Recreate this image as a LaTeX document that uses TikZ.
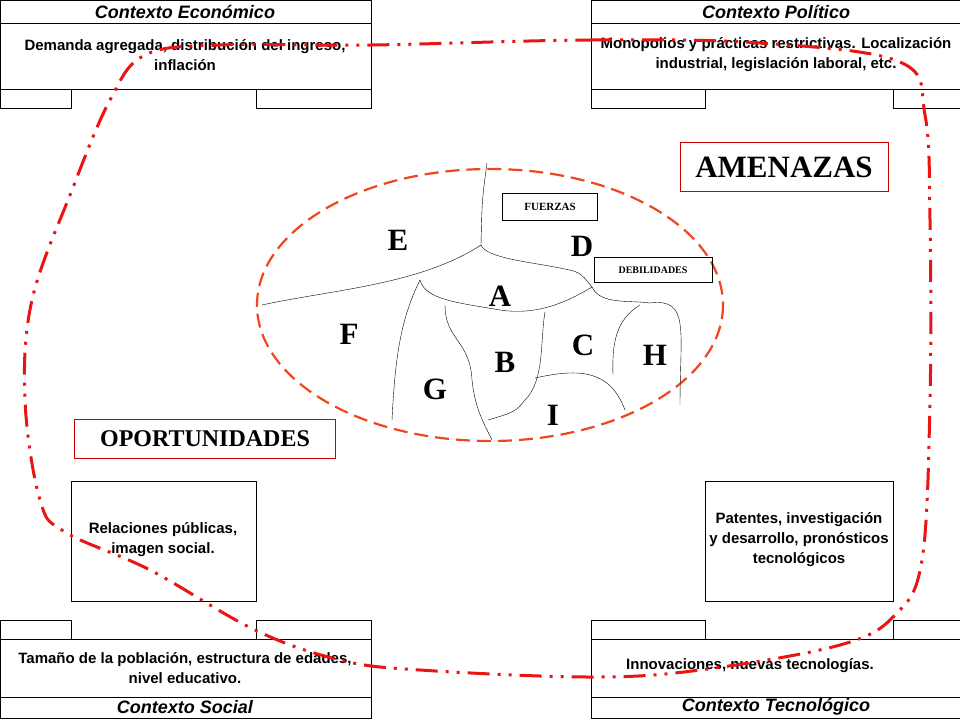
\documentclass[tikz,border=0pt]{standalone}
\usepackage{fontspec}
\setmainfont{Liberation Serif}
\setsansfont{Liberation Sans}
\tikzset{
	frame/.style={draw=black, line width=0.8pt},
	bodytext/.style={font=\sffamily\bfseries\fontsize{15}{20}\selectfont, align=center},
	titletext/.style={font=\sffamily\bfseries\itshape\fontsize{18}{20}\selectfont},
	region/.style={font=\bfseries\fontsize{31}{31}\selectfont},
	tag/.style={draw=black, font=\bfseries\fontsize{14}{14}\selectfont, inner sep=0},
	redtag/.style={draw=red!80!black, font=\bfseries\fontsize{28}{28}\selectfont, inner sep=0},
	border/.style={thin, black},
}
\definecolor{loopred}{RGB}{235,20,20}
\definecolor{ovalred}{RGB}{240,70,30}
\begin{document}
\begin{tikzpicture}[x=1pt,y=-1pt]
\useasboundingbox (0,0) rectangle (960,720);

% top boxes
\foreach \xa/\xb/\ta/\tb in {0/371/71/256, 591/960/705/893}{
	\draw[frame] (\xa,0) rectangle (\xb,89);
	\draw[frame] (\xa,23) -- (\xb,23);
	\draw[frame] (\xa,89) rectangle (\ta,108);
	\draw[frame] (\tb,89) rectangle (\xb,108);
}
% bottom boxes
\foreach \xa/\xb/\ta/\tb in {0/371/71/256, 591/960/705/893}{
	\draw[frame] (\xa,639) rectangle (\xb,718);
	\draw[frame] (\xa,697) -- (\xb,697);
	\draw[frame] (\xa,620) rectangle (\ta,639);
	\draw[frame] (\tb,620) rectangle (\xb,639);
}
% middle boxes
\draw[frame] (71,481) rectangle (256,601);
\draw[frame] (705,481) rectangle (893,601);

\node[titletext](teco) at(185,12) {Contexto Económico};
\node[titletext](tpol) at(776,12) {Contexto Político};
\node[titletext](tsoc) at(185,707) {Contexto Social};
\node[titletext](ttec) at(776,707) {Contexto Tecnológico};
\node[bodytext](beco) at(185,55) {Demanda agregada, distribución del ingreso,\\inflación};
\node[bodytext](bpol) at(776,55) {Monopolios y prácticas restrictivas. Localización\\industrial, legislación laboral, etc.};
\node[bodytext](bsoc) at(185,668) {Tamaño de la población, estructura de edades,\\nivel educativo.};
\node[bodytext](btec) at(750,666) {Innovaciones, nuevas tecnologías.};
\node[bodytext](brel) at(163,540) {Relaciones públicas,\\imagen social.};
\node[bodytext](bpat) at(799,540) {Patentes, investigación\\y desarrollo, pronósticos\\tecnológicos};

% oval
\draw[ovalred, line width=2.2pt, dash pattern=on 14pt off 7pt] (490,305) ellipse[x radius=233, y radius=136];

% borders of regions
\draw[border] (487,163) .. controls (482,200) .. (481,245) .. controls (486,258) and (530,262) .. (560,268) .. controls (580,272) .. (592,287);
\draw[border] (262,305) .. controls (330,290) and (420,285) .. (481,245);
\draw[border] (420,280) .. controls (425,300) and (460,303) .. (500,310) .. controls (540,316) and (570,300) .. (592,287);
\draw[border] (592,287) .. controls (600,305) and (630,300) .. (650,303) .. controls (690,298) and (680,330) .. (680,405);
\draw[border] (420,280) .. controls (400,320) and (395,360) .. (392,420);
\draw[border] (445,305) .. controls (445,340) and (470,340) .. (472,380) .. controls (475,410) and (485,425) .. (492,440);
\draw[border] (545,312) .. controls (540,340) and (545,380) .. (525,400) .. controls (515,412) .. (488,420);
\draw[border] (535,378) .. controls (580,368) and (610,370) .. (625,410);
\draw[border] (640,305) .. controls (615,320) and (612,345) .. (613,375);

\node[region](lE) at(398,240) {E};
\node[region](lD) at(582,246) {D};
\node[region](lA) at(500,296) {A};
\node[region](lF) at(349,334) {F};
\node[region](lC) at(583,345) {C};
\node[region](lH) at(655,355) {H};
\node[region](lB) at(505,362) {B};
\node[region](lG) at(435,389) {G};
\node[region](lI) at(553,415) {I};

\node[tag, minimum width=95, minimum height=27](fuer) at(550,207) {\fontsize{11}{11}\selectfont FUERZAS};
\node[tag, minimum width=118, minimum height=25](debi) at(653,270) {\fontsize{10}{10}\selectfont DEBILIDADES};
\node[redtag, minimum width=208, minimum height=49](amen) at(784,167) {\fontsize{31}{31}\selectfont AMENAZAS};
\node[redtag, minimum width=261, minimum height=39](opor) at(205,439) {\fontsize{24}{24}\selectfont OPORTUNIDADES};

% dash dot dot loop
\draw[loopred, line width=3pt, dash pattern=on 22pt off 8pt on 3pt off 8pt on 3pt off 8pt]
	plot[smooth cycle, tension=0.6] coordinates {
	(372,45) (590,40) (760,43) (900,62) (925,115) (930,220) (930,400) (922,560)
	(895,615) (840,645) (700,670) (590,677) (420,670) (340,660) (255,630)
	(150,570) (65,532) (40,500) (25,400) (32,300) (72,190) (110,100) (145,55) (220,45)};
\end{tikzpicture}
\end{document}
